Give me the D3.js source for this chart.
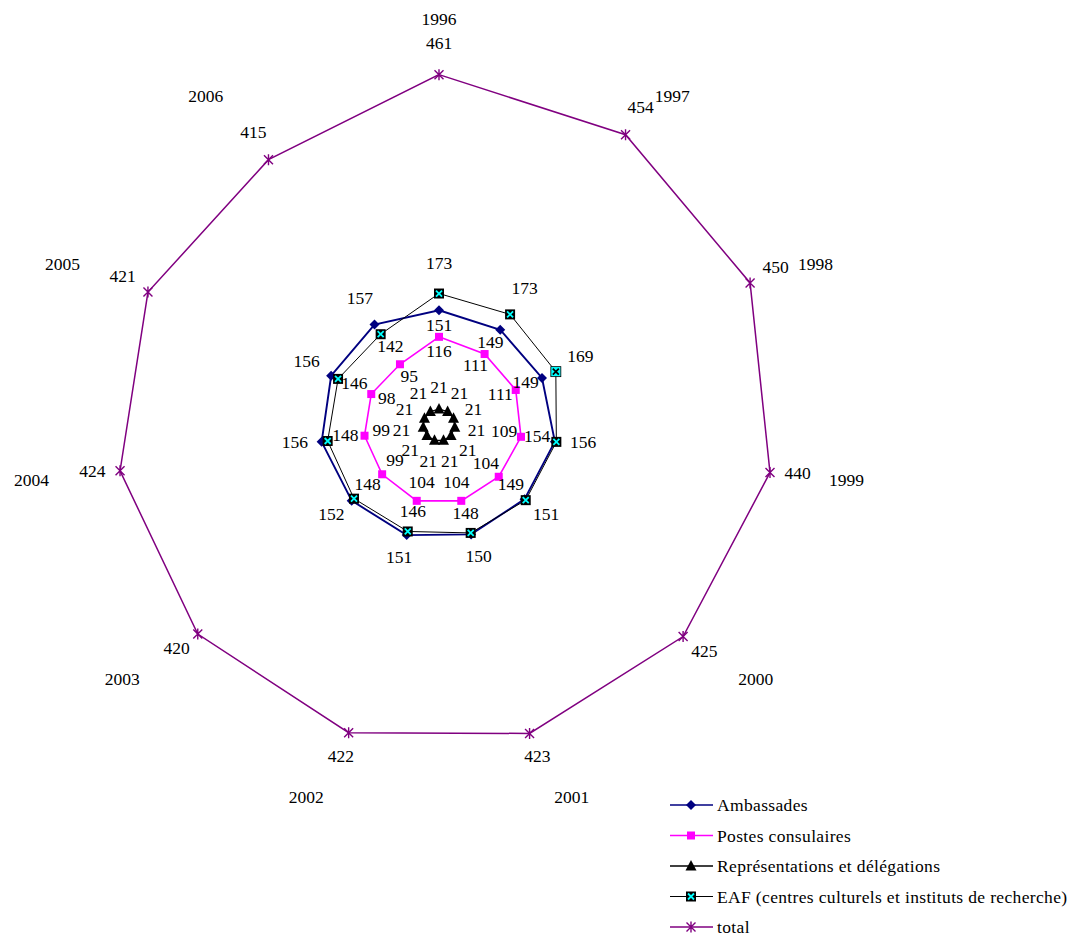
<!DOCTYPE html>
<html>
<head>
<meta charset="utf-8">
<script src="https://cdn.jsdelivr.net/npm/d3@7"></script>
<style>
  html, body { margin: 0; padding: 0; background: #fff; }
  svg text { font-family: "Liberation Serif", "Times New Roman", serif; font-size: 17.5px; fill: #000; }
  svg .legend text { letter-spacing: 0.35px; }
</style>
</head>
<body>
<svg id="chart" width="1071" height="937"></svg>
<script>
// Effectifs par type de poste, 1996-2006
const years = ["1996", "1997", "1998", "1999", "2000", "2001", "2002", "2003", "2004", "2005", "2006"];
const ambassades = [151, 149, 149, 154, 149, 150, 151, 152, 156, 156, 157];
const postesConsulaires = [116, 111, 111, 109, 104, 104, 104, 99, 99, 98, 95];
const representations = [21, 21, 21, 21, 21, 21, 21, 21, 21, 21, 21];
const eaf = [173, 173, 169, 156, 151, 148, 146, 148, 148, 146, 142];
const total = [461, 454, 450, 440, 425, 423, 422, 420, 424, 421, 415];

const seriesNames = [
  "Ambassades",
  "Postes consulaires",
  "Représentations et délégations",
  "EAF (centres culturels et instituts de recherche)",
  "total"
];

const svg = d3.select("#chart");
const cx = 439, cy = 425;
const g = svg.append("g").attr("transform", `translate(${cx},${cy})`);

const r = d3.scaleLinear().domain([0, 500]).range([0, 380]);
const angle = d3.scaleLinear().domain([0, years.length]).range([0, 2 * Math.PI]);

const series = [
  { key: "amb", name: seriesNames[0], values: ambassades, color: "#000080", width: 1.9, marker: "diamond" },
  { key: "pc", name: seriesNames[1], values: postesConsulaires, color: "#FF00FF", width: 1.6, marker: "square" },
  { key: "rep", name: seriesNames[2], values: representations, color: "#000000", width: 1.2, marker: "triangle" },
  { key: "eaf", name: seriesNames[3], values: eaf, color: "#000000", width: 1, marker: "boxcross" },
  { key: "tot", name: seriesNames[4], values: total, color: "#800080", width: 1.5, marker: "star" }
];

const line = d3.lineRadial()
  .angle((d, i) => angle(i))
  .radius(d => r(d))
  .curve(d3.curveLinearClosed);

function drawMarker(sel, type, color, special) {
  if (type === "diamond") {
    sel.append("path").attr("d", "M0,-5L5,0L0,5L-5,0Z").attr("fill", color);
  } else if (type === "square") {
    sel.append("rect").attr("x", -4).attr("y", -4).attr("width", 8).attr("height", 8).attr("fill", color);
  } else if (type === "triangle") {
    sel.append("path").attr("d", "M0,-6L5.5,4.5L-5.5,4.5Z").attr("fill", color);
  } else if (type === "boxcross") {
    const bg = special ? "#00FFFF" : "#000000";
    const fg = special ? "#000000" : "#00FFFF";
    sel.append("rect").attr("x", -5).attr("y", -5).attr("width", 10).attr("height", 10)
      .attr("fill", bg).attr("stroke", "#000").attr("stroke-width", special ? 0.8 : 0);
    sel.append("path").attr("d", "M-3,-3L3,3M-3,3L3,-3")
      .attr("stroke", fg).attr("stroke-width", 1.8).attr("fill", "none");
  } else if (type === "star") {
    sel.append("path").attr("d", "M-4.5,-4.5L4.5,4.5M-4.5,4.5L4.5,-4.5M0,-5.5L0,5.5")
      .attr("stroke", color).attr("stroke-width", 1.4).attr("fill", "none");
  }
}

// Series polygons and markers
series.forEach(s => {
  g.append("path")
    .datum(s.values)
    .attr("d", line)
    .attr("fill", "none")
    .attr("stroke", s.color)
    .attr("stroke-width", s.width);
  s.values.forEach((v, i) => {
    const [x, y] = d3.pointRadial(angle(i), r(v));
    const m = g.append("g").attr("transform", `translate(${x},${y})`);
    drawMarker(m, s.marker, s.color, s.key === "eaf" && years[i] === "1998");
  });
});

// Value labels: pushed outward (positive offset) or inward (negative offset)
function labelAt(v, i, offset, dy) {
  const [x, y] = d3.pointRadial(angle(i), r(v) + offset);
  g.append("text")
    .attr("x", x).attr("y", y + dy)
    .attr("text-anchor", "middle")
    .attr("dominant-baseline", "central")
    .text(v);
}

years.forEach((yr, i) => {
  labelAt(total[i], i, 28, -4);
  labelAt(representations[i], i, 22, 0);
  labelAt(postesConsulaires[i], i, -17, -3);
  const outerIsAmb = ambassades[i] > eaf[i];
  labelAt(outerIsAmb ? ambassades[i] : eaf[i], i, 27, -4);
  labelAt(outerIsAmb ? eaf[i] : ambassades[i], i, -18, -3);
});

// Category labels around the chart
const R = 388;
years.forEach((yr, i) => {
  const a = angle(i);
  const s = Math.sin(a), c = Math.cos(a);
  let anchor = "middle", x = R * s;
  if (s > 0.1) { anchor = "start"; x += 6; }
  else if (s < -0.1) { anchor = "end"; x -= 6; }
  const y = -R * c - 18 * Math.pow(Math.max(0, c), 12);
  g.append("text")
    .attr("x", x).attr("y", y)
    .attr("text-anchor", anchor)
    .attr("dominant-baseline", "central")
    .text(yr);
});

// Legend
const legend = svg.append("g").attr("class", "legend").attr("transform", "translate(670,805)");
series.forEach((s, k) => {
  const row = legend.append("g").attr("transform", `translate(0,${k * 30.5})`);
  row.append("line").attr("x1", 0).attr("x2", 43).attr("y1", 0).attr("y2", 0)
    .attr("stroke", s.color).attr("stroke-width", s.key === "eaf" ? 1 : 1.5);
  const m = row.append("g").attr("transform", "translate(21,0)");
  drawMarker(m, s.marker, s.color, false);
  row.append("text").attr("x", 47).attr("y", 0)
    .attr("dominant-baseline", "central")
    .text(s.name);
});
</script>
</body>
</html>
